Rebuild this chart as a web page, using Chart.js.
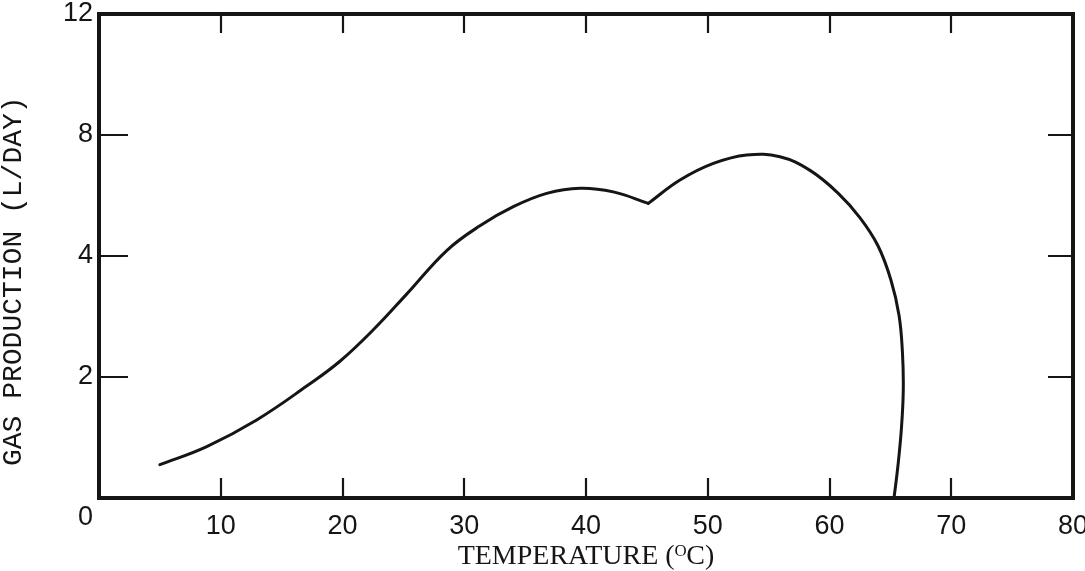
<!DOCTYPE html>
<html>
<head>
<meta charset="utf-8">
<script src="https://cdn.jsdelivr.net/npm/chart.js@4.4.0/dist/chart.umd.min.js"></script>
<style>
html,body{margin:0;padding:0;background:#fff;}
#wrap{width:1085px;height:571px;}
</style>
</head>
<body>
<div id="wrap"><canvas id="c" width="1085" height="571"></canvas></div>
<script>
// ---- data ----
const xTickValues = [0, 10, 20, 30, 40, 50, 60, 70, 80];
// The original y axis has equally spaced ticks labelled 0, 2, 4, 8, 12
const yTickValues = [0, 2, 4, 8, 12];
const yTickLabels = ['0', '2', '4', '8', '12'];

// rising branch up to the cusp (temperature °C, gas production L/day)
const tempFirst = [5.0, 8.85, 12.95, 17.06, 19.79, 22.53, 25.27, 28.56, 31.29, 34.03, 36.77, 39.51, 42.24, 45.12];
const gasFirst  = [0.55, 0.85, 1.29, 1.85, 2.26, 2.78, 3.37, 4.18, 5.00, 5.63, 6.07, 6.24, 6.12, 5.74];
// second branch from the cusp, over the peak and down to zero
const tempSecond = [45.12, 47.72, 50.46, 53.20, 55.93, 58.40, 60.70, 62.51, 63.99, 65.05, 65.71, 65.99, 66.06, 65.91, 65.63, 65.30];
const gasSecond  = [5.74, 6.51, 7.06, 7.34, 7.28, 6.83, 6.08, 5.26, 4.33, 3.60, 3.02, 2.41, 1.79, 1.16, 0.55, 0.0];

// map a value onto the (non-uniform) axis position: tick i sits at position i
function axisPos(v) {
  for (let i = 0; i < yTickValues.length - 1; i++) {
    const a = yTickValues[i], b = yTickValues[i + 1];
    if (v <= b || i === yTickValues.length - 2) return i + (v - a) / (b - a);
  }
  return 0;
}
const toPoints = (xs, ys) => xs.map((x, i) => ({ x: x, y: axisPos(ys[i]) }));

const INK = '#151515';
const tickFont = 'Liberation Sans Narrow, Liberation Sans, sans-serif';

const framePlugin = {
  id: 'frame',
  afterDraw(chart) {
    const { ctx, chartArea: { left, right, top, bottom }, scales: { x, y } } = chart;
    ctx.save();
    ctx.strokeStyle = INK;
    ctx.lineCap = 'square';
    ctx.lineWidth = 4;
    ctx.beginPath();
    ctx.moveTo(left, top);
    ctx.lineTo(right, top);
    ctx.lineTo(right, bottom);
    ctx.lineTo(left, bottom);
    ctx.closePath();
    ctx.stroke();
    ctx.lineWidth = 2.2;
    ctx.lineCap = 'butt';
    ctx.beginPath();
    x.ticks.forEach(t => {
      if (t.value <= x.min || t.value >= x.max) return;
      const px = Math.round(x.getPixelForValue(t.value));
      ctx.moveTo(px, bottom); ctx.lineTo(px, bottom - 20);
      ctx.moveTo(px, top); ctx.lineTo(px, top + 19);
    });
    y.ticks.forEach(t => {
      if (t.value <= y.min || t.value >= y.max) return;
      const py = Math.round(y.getPixelForValue(t.value));
      ctx.moveTo(left, py); ctx.lineTo(left + 29, py);
      ctx.moveTo(right, py); ctx.lineTo(right - 25, py);
    });
    ctx.stroke();
    ctx.restore();
  }
};

const lineStyle = { borderColor: INK, borderWidth: 3, pointRadius: 0, fill: false, tension: 0.4, borderJoinStyle: 'round', borderCapStyle: 'round' };

new Chart(document.getElementById('c'), {
  type: 'line',
  data: {
    datasets: [
      Object.assign({ data: toPoints(tempFirst, gasFirst) }, lineStyle),
      Object.assign({ data: toPoints(tempSecond, gasSecond) }, lineStyle)
    ]
  },
  options: {
    responsive: false,
    animation: false,
    events: [],
    layout: { padding: { top: 14, right: 12, left: 0, bottom: 0 } },
    plugins: { legend: { display: false }, tooltip: { enabled: false } },
    scales: {
      x: {
        type: 'linear', min: 0, max: 80,
        afterBuildTicks: s => { s.ticks = xTickValues.map(v => ({ value: v })); },
        afterFit: s => { s.height = 73; s.paddingLeft = 0; s.paddingRight = 0; },
        grid: { display: false, drawTicks: false },
        border: { display: false },
        ticks: {
          color: INK, padding: 12, maxRotation: 0, autoSkip: false,
          font: { family: tickFont, size: 27, lineHeight: 1.2 },
          callback: v => (v === 0 ? '' : String(v))
        },
        title: {
          display: true, text: 'TEMPERATURE (\u1D3CC)', color: INK,
          font: { family: 'Liberation Serif, serif', size: 28, lineHeight: 1.0 },
          padding: { top: -1, bottom: 0 }
        }
      },
      y: {
        type: 'linear', min: 0, max: yTickValues.length - 1,
        afterBuildTicks: s => { s.ticks = yTickLabels.map((_, i) => ({ value: i })); },
        afterFit: s => { s.width = 99; s.paddingTop = 0; s.paddingBottom = 0; },
        grid: { display: false, drawTicks: false },
        border: { display: false },
        ticks: {
          color: INK, padding: 6, autoSkip: false,
          font: ctx => ({ family: tickFont, size: 27, lineHeight: (ctx.tick && ctx.tick.value === 0) ? 1.42 : 1.2 }),
          callback: v => (v === 0 ? ['', yTickLabels[0]] : yTickLabels[v])
        },
        title: {
          display: true, text: 'GAS PRODUCTION (L/DAY)   ', color: INK,
          font: { family: 'Liberation Mono, monospace', size: 28, lineHeight: 1.0 },
          padding: { top: 0, bottom: 0 }
        }
      }
    }
  },
  plugins: [framePlugin]
});
</script>
</body>
</html>
